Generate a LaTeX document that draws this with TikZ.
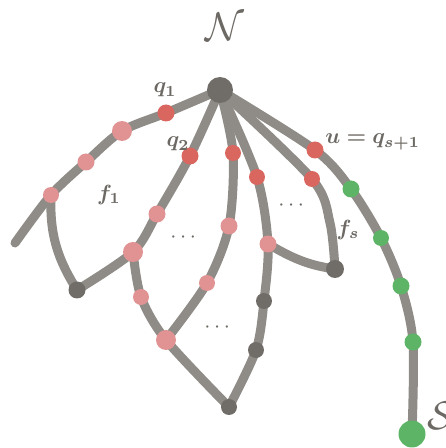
\documentclass[tikz,border=0pt]{standalone}
\usepackage{amsmath,amssymb,bm}
\usepackage{xcolor}
\usetikzlibrary{backgrounds}

\definecolor{strandgray}{RGB}{143,140,135}
\definecolor{hubgray}{RGB}{112,108,103}
\definecolor{qred}{RGB}{218,103,95}
\definecolor{qpink}{RGB}{225,147,147}
\definecolor{qgreen}{RGB}{94,180,102}
\definecolor{labelgray}{RGB}{108,104,99}

\begin{document}
\begin{tikzpicture}[x=1pt,y=1pt,
  dot/.style={circle,inner sep=0pt,minimum size=17pt},
  reddot/.style={dot,fill=qred},
  pinkdot/.style={dot,fill=qpink},
  bigpink/.style={dot,fill=qpink,minimum size=20pt},
  greendot/.style={dot,fill=qgreen},
  darkdot/.style={dot,fill=hubgray},
  strand/.style={draw=strandgray,line width=9pt,line cap=round,line join=round},
  lbl/.style={text=labelgray,inner sep=0pt,scale=2.2},
  biglbl/.style={text=labelgray,inner sep=0pt,scale=4}]

\useasboundingbox (0,0) rectangle (446,448);

% hub and sink
\node[dot,fill=hubgray,minimum size=26pt] (N) at (220,358) {};
\node[dot,fill=qgreen,minimum size=27pt] (S) at (412,14) {};

% first face
\node[reddot] (q1) at (166,335) {};
\node[bigpink] (a2) at (122,317) {};
\node[pinkdot] (a3) at (86,286) {};
\node[pinkdot,minimum size=16pt] (a4) at (51,253) {};
\coordinate (aend) at (15,205);
\node[darkdot] (d1) at (77,158) {};

% second strand
\node[reddot] (q2) at (190,292) {};
\node[pinkdot] (b2) at (157,234) {};
\node[bigpink] (b3) at (133,196) {};
\node[pinkdot,minimum size=16pt] (b4) at (141,151) {};
\node[bigpink] (b5) at (166,108) {};
\node[darkdot,minimum size=16pt] (d2) at (229,41) {};

\node[reddot,minimum size=16pt] (c1) at (233,295) {};
\node[pinkdot] (c2) at (229,222) {};
\node[pinkdot,minimum size=16pt] (c3) at (207,165) {};

\node[reddot,minimum size=16pt] (e1) at (257,271) {};
\node[pinkdot] (e2) at (268,204) {};
\node[darkdot,minimum size=16pt] (e3) at (264,147) {};
\node[darkdot,minimum size=16pt] (e4) at (256,98) {};

\node[reddot,minimum size=16pt] (g1) at (312,269) {};
\node[darkdot,minimum size=18pt] (d3) at (335,179) {};

% outer strand to S
\node[reddot] (u) at (315,298) {};
\node[greendot] (s1) at (351,259) {};
\node[greendot,minimum size=16pt] (s2) at (381,210) {};
\node[greendot] (s3) at (401,162) {};
\node[greendot] (s4) at (413,106) {};

% strands
\begin{scope}[on background layer]
\draw[strand] plot[smooth] coordinates {(N.center) (q1.center) (a2.center) (a3.center) (a4.center) (aend)};
\draw[strand] (a4.center) to[out=-92,in=122] (d1.center);
\draw[strand] plot[smooth] coordinates {(N.center) (q2.center) (b2.center) (b3.center) (d1.center)};
\draw[strand] plot[smooth] coordinates {(b3.center) (b4.center) (b5.center) (d2.center)};
\draw[strand] plot[smooth] coordinates {(N.center) (c1.center) (c2.center) (c3.center) (b5.center)};
\draw[strand] plot[smooth] coordinates {(N.center) (e1.center) (e2.center) (e3.center) (e4.center) (d2.center)};
\draw[strand] (e2.center) to[out=-30,in=172] (d3.center);
\draw[strand] plot[smooth] coordinates {(N.center) (g1.center) (330,225) (d3.center)};
\draw[strand] plot[smooth] coordinates {(N.center) (u.center) (s1.center) (s2.center) (s3.center) (s4.center) (S.center)};
\end{scope}

% labels
\node[biglbl] (lN) at (225,421) {$\mathcal{N}$};
\node[biglbl] (lS) at (441,32) {$\mathcal{S}$};
\node[lbl] (lq1) at (165,358) {$\bm{q_1}$};
\node[lbl] (lq2) at (178,304) {$\bm{q_2}$};
\node[lbl] (lf1) at (109,253) {$\bm{f_1}$};
\node[lbl] (lfs) at (348,218) {$\bm{f_s}$};
\node[lbl,anchor=west] (lu) at (325,306) {$\bm{u=q_{s+1}}$};
\node[lbl] (dots1) at (185,210) {$\cdots$};
\node[lbl] (dots2) at (293,242) {$\cdots$};
\node[lbl] (dots3) at (219,120) {$\cdots$};

\end{tikzpicture}
\end{document}
